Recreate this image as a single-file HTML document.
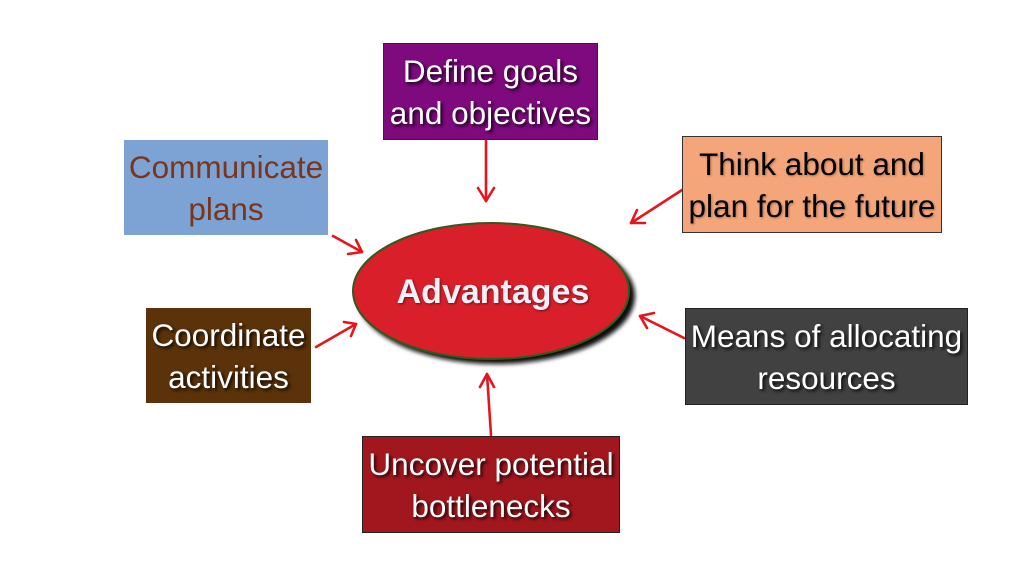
<!DOCTYPE html>
<html><head><meta charset="utf-8"><style>
html,body{margin:0;padding:0;background:#fff;}
body{width:1024px;height:576px;overflow:hidden;position:relative;font-family:"Liberation Sans",Arial,sans-serif;}
.b{position:absolute;box-sizing:border-box;display:flex;align-items:center;justify-content:center;text-align:center;font-size:31.5px;line-height:42px;}
.w{color:#fff;text-shadow:2px 2px 3px rgba(0,0,0,0.85);}
svg{position:absolute;left:0;top:0;}
</style></head><body>
<svg width="1024" height="576" viewBox="0 0 1024 576">
<defs>
<filter id="sh" x="-10%" y="-10%" width="130%" height="130%"><feGaussianBlur stdDeviation="2"/></filter>
</defs>
<ellipse cx="496" cy="296" rx="139" ry="68" fill="#111" filter="url(#sh)"/>
<ellipse cx="491" cy="291" rx="138" ry="68" fill="#d81f2a" stroke="#2f5a1c" stroke-width="2"/>
<text x="493" y="303" text-anchor="middle" font-family="Liberation Sans, Arial, sans-serif" font-weight="bold" font-size="34" fill="#eef2f8" style="text-shadow:1px 1px 2px rgba(0,0,0,0.5)">Advantages</text>
<g stroke="#e8141c" stroke-width="2.6" fill="none" stroke-linecap="round" stroke-linejoin="round">
<line x1="486" y1="141" x2="486" y2="201"/><polyline points="478,188 486,201 494,188"/>
<line x1="333" y1="236" x2="362" y2="252"/><polyline points="348,254 362,252 356,240"/>
<line x1="316" y1="347" x2="356" y2="324"/><polyline points="344,322 356,324 351,336"/>
<line x1="682" y1="190" x2="631" y2="223"/><polyline points="637,210 631,223 645,223"/>
<line x1="684" y1="338" x2="640" y2="316"/><polyline points="654,313 640,316 647,328"/>
<line x1="491" y1="435" x2="487" y2="374"/><polyline points="480,387 487,374 494,387"/>
</g>
</svg>
<div class="b w" style="left:383px;top:43px;width:215px;height:97px;background:#7e0a7e;border:1px solid #2a2a2a;">Define goals<br>and objectives</div>
<div class="b" style="left:124px;top:140px;width:204px;height:95px;background:#7ca3d4;color:#7a351a;">Communicate<br>plans</div>
<div class="b w" style="left:146px;top:308px;width:165px;height:95px;background:#5b320a;">Coordinate<br>activities</div>
<div class="b" style="left:682px;top:136px;width:260px;height:97px;background:#f4a67a;border:1px solid #333;color:#000;text-shadow:1px 1px 2px rgba(0,0,0,0.3);">Think about and<br>plan for the future</div>
<div class="b w" style="left:685px;top:308px;width:283px;height:97px;background:#414141;border:1px solid #222;">Means of allocating<br>resources</div>
<div class="b w" style="left:362px;top:436px;width:258px;height:97px;background:#a2171e;border:1px solid #222;">Uncover potential<br>bottlenecks</div>
</body></html>
